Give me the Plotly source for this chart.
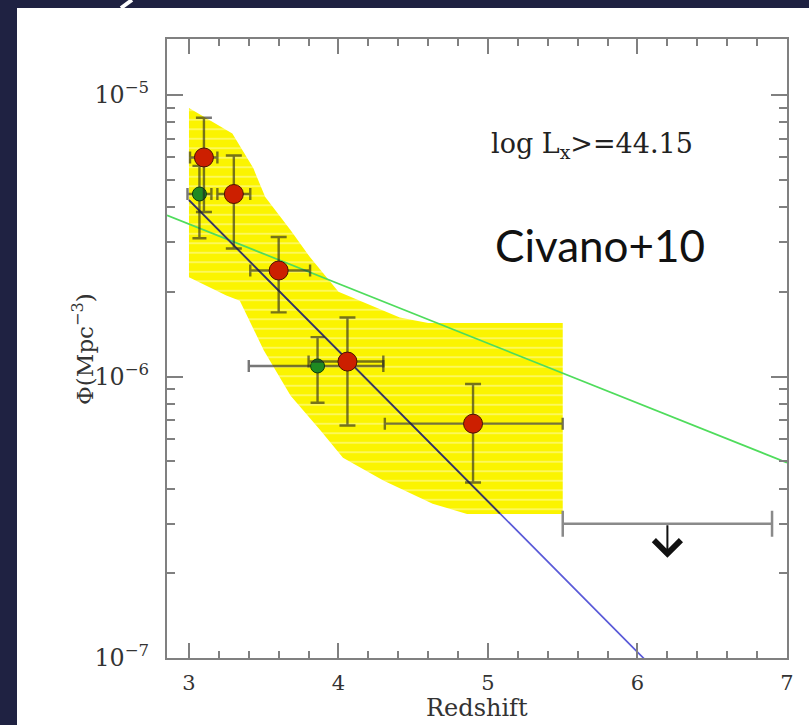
import plotly.graph_objects as go
import math

# ---------------- data ----------------
# yellow uncertainty band (upper / lower edges)
band_up_z = [3.0, 3.29, 3.43, 3.51, 3.68, 3.81, 4.0, 4.2, 4.41, 4.6, 5.5]
band_up_phi = [9.0e-6, 7.3e-6, 5.5e-6, 4.34e-6, 3.31e-6, 2.65e-6, 2.0e-6, 1.8e-6, 1.62e-6, 1.55e-6, 1.55e-6]
band_lo_z = [3.0, 3.25, 3.34, 3.50, 3.68, 3.88, 4.03, 4.30, 4.63, 4.86, 5.5]
band_lo_phi = [2.25e-6, 1.94e-6, 1.86e-6, 1.24e-6, 8.55e-7, 6.43e-7, 5.15e-7, 4.27e-7, 3.53e-7, 3.25e-7, 3.25e-7]

# model curves
green_z = [2.853, 5.0, 7.0]
green_phi = [3.74e-6, 1.31e-6, 4.94e-7]
blue_z = [3.0, 4.0, 5.0, 6.0, 6.2]
blue_phi = [4.23e-6, 1.23e-6, 3.6e-7, 1.05e-7, 8.2e-8]
dark_z = [3.0, 4.0, 5.08]
dark_phi = [4.23e-6, 1.23e-6, 3.26e-7]

# red points (this work)
red_z = [3.10, 3.30, 3.60, 4.06, 4.90]
red_z_lo = [3.007, 3.19, 3.41, 3.80, 4.31]
red_z_hi = [3.19, 3.41, 3.81, 4.30, 5.50]
red_phi = [6.0e-6, 4.45e-6, 2.38e-6, 1.13e-6, 6.8e-7]
red_phi_lo = [3.84e-6, 2.85e-6, 1.69e-6, 6.7e-7, 4.2e-7]
red_phi_hi = [8.3e-6, 6.1e-6, 3.13e-6, 1.62e-6, 9.4e-7]

# green points
grn_z = [3.07, 3.86]
grn_z_lo = [2.99, 3.40]
grn_z_hi = [3.15, 4.30]
grn_phi = [4.45e-6, 1.09e-6]
grn_phi_lo = [3.1e-6, 8.07e-7]
grn_phi_hi = [5.6e-6, 1.38e-6]

# upper limit
ul_z = [6.2]
ul_z_lo = [5.5]
ul_z_hi = [6.9]
ul_phi = [3.0e-7]
ul_arrow_to = [2.27e-7]

tick_vals_x = [3, 4, 5, 6, 7]

SERIF = "DejaVu Serif"
ERRC = "rgba(35,35,35,0.62)"

fig = go.Figure()

# band
fig.add_trace(go.Scatter(
    x=band_up_z + band_lo_z[::-1],
    y=band_up_phi + band_lo_phi[::-1],
    mode="lines", line=dict(width=0), fill="toself",
    fillcolor="#fbf400",
    fillpattern=dict(shape="-", fgcolor="rgba(255,255,235,0.85)", bgcolor="#fbf400",
                     size=9.5, solidity=0.18, fillmode="overlay"),
    hoverinfo="skip", showlegend=False))

fig.add_trace(go.Scatter(x=green_z, y=green_phi, mode="lines",
                         line=dict(color="#4fdc5c", width=1.7), showlegend=False))
fig.add_trace(go.Scatter(x=blue_z, y=blue_phi, mode="lines",
                         line=dict(color="#5a5ad8", width=1.7), showlegend=False))
fig.add_trace(go.Scatter(x=dark_z, y=dark_phi, mode="lines",
                         line=dict(color="#3a3a52", width=1.7), showlegend=False))

# upper limit bar
fig.add_trace(go.Scatter(
    x=ul_z, y=ul_phi, mode="markers", marker=dict(size=1, color="rgba(0,0,0,0)"),
    error_x=dict(type="data", array=[h - c for h, c in zip(ul_z_hi, ul_z)],
                 arrayminus=[c - l for l, c in zip(ul_z_lo, ul_z)],
                 color="#8a8a8a", thickness=2.5, width=13),
    showlegend=False))


def add_points(z, zlo, zhi, phi, plo, phi_hi, color, edge, size, capx, capy):
    fig.add_trace(go.Scatter(
        x=z, y=phi, mode="markers",
        marker=dict(size=size, color=color, line=dict(color=edge, width=1)),
        error_x=dict(type="data", array=[h - c for h, c in zip(zhi, z)],
                     arrayminus=[c - l for l, c in zip(zlo, z)],
                     color=ERRC, thickness=2.4, width=capx),
        error_y=dict(type="data", array=[h - c for h, c in zip(phi_hi, phi)],
                     arrayminus=[c - l for l, c in zip(plo, phi)],
                     color=ERRC, thickness=2.4, width=capy),
        showlegend=False))


add_points(grn_z, grn_z_lo, grn_z_hi, grn_phi, grn_phi_lo, grn_phi_hi,
           "#1f8a22", "#0d3d0d", 14, 6, 7)
add_points(red_z, red_z_lo, red_z_hi, red_phi, red_phi_lo, red_phi_hi,
           "#cc1f00", "#4a1200", 19, 6, 8)

W, H = 809, 725
L, R, T, B = 167, 22, 39, 67
pw, ph = W - L - R, H - T - B


def px(xp):
    return (xp - L) / pw


def py(yp):
    return (H - B - yp) / ph


annotations = [
    dict(x=ul_z[0], y=math.log10(ul_arrow_to[0]), ax=ul_z[0], ay=math.log10(ul_phi[0]),
         xref="x", yref="y", axref="x", ayref="y", showarrow=True, text="",
         arrowhead=4, arrowsize=2.6, arrowwidth=2, arrowcolor="#111"),
    dict(x=px(592), y=py(145), xref="paper", yref="paper", showarrow=False,
         text="log L<sub>x</sub>&gt;=44.15", font=dict(family=SERIF, size=27, color="#222"),
         xanchor="center", yanchor="middle"),
    dict(x=px(600), y=py(245), xref="paper", yref="paper", showarrow=False,
         text="Civano+10", font=dict(family="Lato", size=44, color="#111"),
         xanchor="center", yanchor="middle"),
    dict(x=px(477), y=py(708), xref="paper", yref="paper", showarrow=False,
         text="Redshift", font=dict(family=SERIF, size=24, color="#333"),
         xanchor="center", yanchor="middle"),
    dict(x=px(83), y=py(349), xref="paper", yref="paper", showarrow=False,
         text="Φ(Mpc<sup>−3</sup>)", textangle=-90, font=dict(family=SERIF, size=23, color="#333"),
         xanchor="center", yanchor="middle"),
]

shapes = [
    dict(type="rect", xref="paper", yref="paper", x0=px(17), x1=px(815), y0=py(735), y1=py(8),
         fillcolor="white", line=dict(width=0), layer="below"),
    dict(type="line", xref="paper", yref="paper", x0=px(132), y0=py(0), x1=px(121), y1=py(8),
         line=dict(color="white", width=4), layer="below"),
]

axis_common = dict(showgrid=False, zeroline=False, showline=True, linecolor="#808080",
                   linewidth=2, mirror="ticks", ticks="inside", tickcolor="#808080",
                   tickwidth=1.6)

fig.update_layout(
    width=W, height=H, margin=dict(l=L, r=R, t=T, b=B),
    paper_bgcolor="#1f2242", plot_bgcolor="white",
    xaxis=dict(range=[2.853, 7], tickmode="array", tickvals=tick_vals_x, ticklen=15,
               ticklabelstandoff=5, tickfont=dict(family=SERIF, size=21, color="#333"),
               minor=dict(ticks="inside", ticklen=7, dtick=0.2, tick0=3, tickcolor="#808080",
                          tickwidth=1.6, showgrid=False),
               **axis_common),
    yaxis=dict(type="log", range=[-7, -4.801], dtick=1, exponentformat="power",
               showexponent="all", ticklen=16, ticklabelstandoff=12,
               tickfont=dict(family=SERIF, size=19, color="#333"),
               minor=dict(ticks="inside", ticklen=8, dtick="D1", tickcolor="#808080",
                          tickwidth=1.6, showgrid=False),
               **axis_common),
    annotations=annotations, shapes=shapes, showlegend=False,
)

fig.write_html("out.html")
